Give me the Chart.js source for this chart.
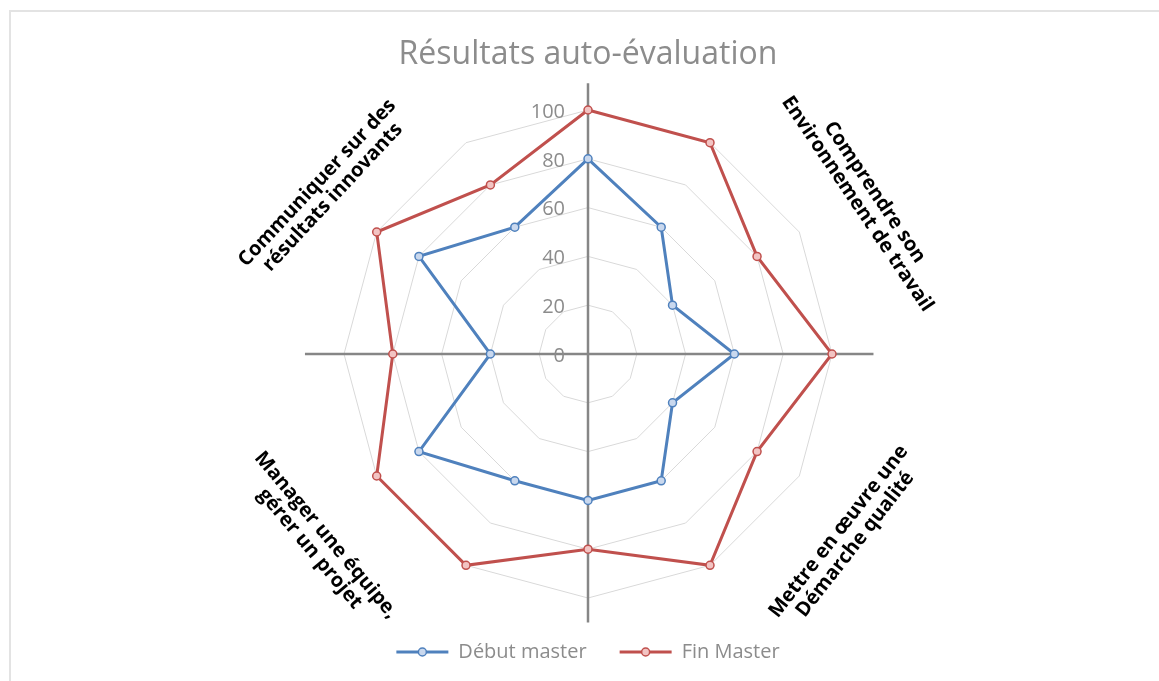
<!DOCTYPE html>
<html><head><meta charset="utf-8">
<script src="https://cdn.jsdelivr.net/npm/chart.js@4"></script>
<style>
html,body{margin:0;padding:0;background:#fff;}
#wrap{position:relative;width:1159px;height:681px;overflow:hidden;}
#frame{position:absolute;left:9px;top:10px;width:1200px;height:700px;border-top:2px solid #e3e3e3;border-left:2px solid #e3e3e3;pointer-events:none;}
canvas{position:absolute;left:0;top:0;}
</style></head><body>
<div id="wrap"><div id="frame"></div><canvas id="c" width="1159" height="681"></canvas></div>
<script>
// ---- data ----
const categories = ['1','2','3','4','5','6','7','8','9','10','11','12'];
const debutMaster = [80, 60, 40, 60, 40, 60, 60, 60, 80, 40, 80, 60];
const finMaster   = [100, 100, 80, 100, 80, 100, 80, 100, 100, 80, 100, 80];
const seriesNames = ['Début master', 'Fin Master'];
const tickMin = 0, tickMax = 100, tickStep = 20;
const titleText = 'Résultats auto-évaluation';
const groupLabels = [
  ['Communiquer sur des', 'résultats innovants'],
  ['Comprendre son', 'Environnement de travail'],
  ['Mettre en œuvre une', 'Démarche qualité'],
  ['Manager une équipe,', 'gérer un projet']
];

const FONT = '"Open Sans", "Noto Sans", sans-serif';
const GRAY = '#8c8c8c';
const BLUE = '#4f81bd', RED = '#c0504d';

const decor = {
  id: 'decor',
  beforeDatasetsDraw(chart, args, opts) {
    const s = chart.scales.r, ctx = chart.ctx;
    const cx = s.xCenter, cy = s.yCenter, R = s.drawingArea;
    ctx.save();
    // cross axes
    ctx.strokeStyle = '#868686';
    ctx.lineWidth = 2.5;
    ctx.beginPath();
    ctx.moveTo(cx - R * opts.ext[0], cy); ctx.lineTo(cx + R * opts.ext[1], cy);
    ctx.moveTo(cx, cy - R * opts.ext[2]); ctx.lineTo(cx, cy + R * opts.ext[3]);
    ctx.stroke();
    // tick labels
    ctx.fillStyle = GRAY;
    ctx.font = '20px ' + FONT;
    ctx.textAlign = 'right';
    ctx.textBaseline = 'middle';
    s.ticks.forEach(t => {
      const y = cy - s.getDistanceFromCenterForValue(t.value);
      ctx.fillText(t.label, cx - 23, y + 2);
    });
    // group labels
    ctx.fillStyle = '#000';
    ctx.font = 'bold 20px ' + FONT;
    ctx.textAlign = 'center';
    groupLabels.forEach((lines, i) => {
      const p = opts.pos[i];
      ctx.save();
      ctx.translate(cx + p[0] * R, cy + p[1] * R);
      ctx.rotate(p[2] * Math.PI / 180);
      lines.forEach((ln, k) => {
        ctx.fillText(ln, 0, (k - (lines.length - 1) / 2) * opts.lh);
      });
      ctx.restore();
    });
    ctx.restore();
  },
  afterDraw(chart) {
    const lg = chart.legend, ctx = chart.ctx;
    if (!lg || !lg.legendHitBoxes) return;
    const bw = lg.options.labels.boxWidth, fs = lg.options.labels.font.size;
    lg.legendHitBoxes.forEach((hb, i) => {
      const ds = chart.data.datasets[lg.legendItems[i].datasetIndex];
      ctx.save();
      ctx.beginPath();
      ctx.arc(hb.left + bw / 2, hb.top + fs / 2, 4, 0, Math.PI * 2);
      ctx.fillStyle = ds.pointBackgroundColor;
      ctx.fill();
      ctx.lineWidth = 1.5;
      ctx.strokeStyle = ds.borderColor;
      ctx.stroke();
      ctx.restore();
    });
  }
};

new Chart(document.getElementById('c'), {
  type: 'radar',
  data: {
    labels: categories,
    datasets: [
      { label: seriesNames[0], data: debutMaster, borderColor: BLUE, borderWidth: 3,
        pointRadius: 4, pointBorderWidth: 1.5, pointBackgroundColor: '#c9d8ee', pointBorderColor: BLUE, fill: false },
      { label: seriesNames[1], data: finMaster, borderColor: RED, borderWidth: 3,
        pointRadius: 4, pointBorderWidth: 1.5, pointBackgroundColor: '#f2c4c3', pointBorderColor: RED, fill: false }
    ]
  },
  options: {
    responsive: false,
    animation: false,
    layout: { padding: { left: 344, right: 327, top: 0, bottom: 9 } },
    scales: {
      r: {
        min: tickMin, max: tickMax,
        ticks: { stepSize: tickStep, display: false },
        grid: { color: '#d9d9d9', lineWidth: 1 },
        angleLines: { display: false },
        pointLabels: { display: false }
      }
    },
    plugins: {
      title: { display: true, text: titleText, color: GRAY,
        font: { family: FONT, size: 32, weight: 'normal' },
        padding: { top: 35.8, bottom: 24.8 } },
      legend: { position: 'bottom',
        labels: { boxWidth: 52, boxHeight: 3, padding: 33, color: GRAY,
          font: { family: FONT, size: 20 },
          generateLabels: (chart) => Chart.defaults.plugins.legend.labels.generateLabels(chart)
            .map(l => Object.assign(l, { fillStyle: l.strokeStyle, lineWidth: 0 })) } },
      tooltip: { enabled: false },
      decor: {
        ext: [1.16, 1.17, 1.11, 1.10],
        lh: 21,
        pos: [[-1.078, -0.672, -47], [1.139, -0.639, 56], [1.061, 0.754, -52], [-1.107, 0.770, 50]]
      }
    }
  },
  plugins: [decor]
});
</script>
</body></html>
